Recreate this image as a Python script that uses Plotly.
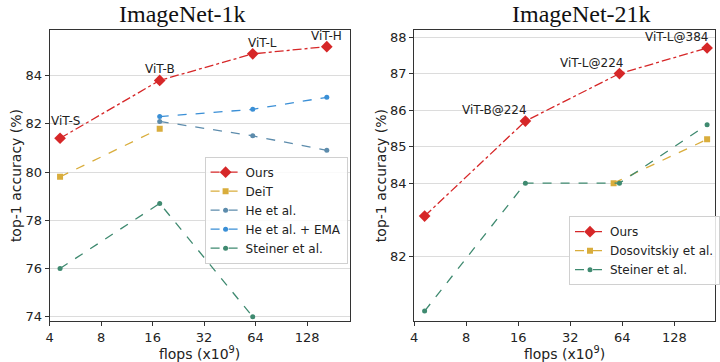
import numpy as np
import plotly.graph_objects as go

# ---------------- data: ImageNet-1k ----------------
in1k_ours_flops = [4.6, 17.6, 61.6, 167]
in1k_ours_acc = [81.4, 83.8, 84.9, 85.2]
in1k_ours_labels = ["ViT-S", "ViT-B", "ViT-L", "ViT-H"]

in1k_deit_flops = [4.6, 17.6]
in1k_deit_acc = [79.8, 81.8]

in1k_he_flops = [17.6, 61.6, 167]
in1k_he_acc = [82.1, 81.5, 80.9]

in1k_heema_flops = [17.6, 61.6, 167]
in1k_heema_acc = [82.3, 82.6, 83.1]

in1k_steiner_flops = [4.6, 17.6, 61.6]
in1k_steiner_acc = [76.0, 78.7, 74.0]

# ---------------- data: ImageNet-21k ----------------
in21k_ours_flops = [4.6, 17.6, 61.6, 198]
in21k_ours_acc = [83.1, 85.7, 87.0, 87.7]
in21k_ours_labels = ["", "ViT-B@224", "ViT-L@224", "ViT-L@384"]

in21k_dosov_flops = [57, 198]
in21k_dosov_acc = [84.0, 85.2]

in21k_steiner_flops = [4.6, 17.6, 61.6, 198]
in21k_steiner_acc = [80.5, 84.0, 84.0, 85.6]

x_ticks = [4, 8, 16, 32, 64, 128]
y_ticks_1k = [74, 76, 78, 80, 82, 84]
y_ticks_21k = [82, 84, 85, 86, 87, 88]

# ---------------- styles ----------------
RED = "#d62728"
GOLD = "#d9ad3c"
HEGREY = "#5d8cac"
BLUE = "#3a8fd6"
GREEN = "#3f8a70"

fig = go.Figure()


def add(x, y, name, color, symbol, size, dash, xa, ya, legend):
    fig.add_trace(go.Scatter(
        x=x, y=y, name=name, mode="lines+markers",
        line=dict(color=color, width=1.3, dash=dash),
        marker=dict(color=color, symbol=symbol, size=size),
        xaxis=xa, yaxis=ya, legend=legend,
    ))


add(in1k_ours_flops, in1k_ours_acc, "Ours", RED, "diamond", 9, "dashdot", "x", "y", "legend")
add(in1k_deit_flops, in1k_deit_acc, "DeiT", GOLD, "square", 6, "dash", "x", "y", "legend")
add(in1k_he_flops, in1k_he_acc, "He et al.", HEGREY, "circle", 5, "dash", "x", "y", "legend")
add(in1k_heema_flops, in1k_heema_acc, "He et al. + EMA", BLUE, "circle", 5, "dash", "x", "y", "legend")
add(in1k_steiner_flops, in1k_steiner_acc, "Steiner et al.", GREEN, "circle", 5, "dash", "x", "y", "legend")

add(in21k_ours_flops, in21k_ours_acc, "Ours", RED, "diamond", 9, "dashdot", "x2", "y2", "legend2")
add(in21k_dosov_flops, in21k_dosov_acc, "Dosovitskiy et al.", GOLD, "square", 6, "dash", "x2", "y2", "legend2")
add(in21k_steiner_flops, in21k_steiner_acc, "Steiner et al.", GREEN, "circle", 5, "dash", "x2", "y2", "legend2")

# point labels
shifts_1k = [(5, 17), (0, 11), (10, 11), (0, 11)]
for fx, acc, lab, (dx, dy) in zip(in1k_ours_flops, in1k_ours_acc, in1k_ours_labels, shifts_1k):
    fig.add_annotation(x=np.log10(fx), y=acc, xref="x", yref="y", text=lab, showarrow=False,
                       xshift=dx, yshift=dy, font=dict(size=12, color="#222"))
shifts_21k = [(0, 0), (-31, 11), (-28, 11), (-31, 11)]
for fx, acc, lab, (dx, dy) in zip(in21k_ours_flops, in21k_ours_acc, in21k_ours_labels, shifts_21k):
    if lab:
        fig.add_annotation(x=np.log10(fx), y=acc, xref="x2", yref="y2", text=lab, showarrow=False,
                           xshift=dx, yshift=dy, font=dict(size=12, color="#222"))

# titles
fig.add_annotation(x=180 / 720, y=1 - 14 / 362, xref="paper", yref="paper", text="ImageNet-1k",
                   showarrow=False, font=dict(family="Liberation Serif", size=24, color="#111"),
                   xanchor="center", yanchor="middle")
fig.add_annotation(x=582 / 720, y=1 - 14 / 362, xref="paper", yref="paper", text="ImageNet-21k",
                   showarrow=False, font=dict(family="Liberation Serif", size=24, color="#111"),
                   xanchor="center", yanchor="middle")

axis_common = dict(showline=True, linecolor="#333", linewidth=1, mirror=True,
                   ticks="outside", ticklen=4, tickcolor="#333", tickwidth=1,
                   tickfont=dict(size=13, color="#222"), zeroline=False)

xdom1 = [46 / 720, 348 / 720]
xdom2 = [413 / 720, 716 / 720]
ydom = [1 - 324 / 362, 1 - 30 / 362]

fig.update_layout(
    width=720, height=362,
    margin=dict(l=0, r=0, t=0, b=0),
    paper_bgcolor="white", plot_bgcolor="white",
    font=dict(family="DejaVu Sans", color="#222"),
    xaxis=dict(type="log", domain=xdom1, range=[np.log10(4), np.log10(227)],
               tickvals=x_ticks, ticktext=[str(v) for v in x_ticks], showgrid=False,
               title=dict(text="flops (x10<sup>9</sup>)", font=dict(size=14), standoff=1),
               anchor="y", **axis_common),
    yaxis=dict(domain=ydom, range=[73.81, 85.9], tickvals=y_ticks_1k, showgrid=True,
               gridcolor="#dcdcdc", gridwidth=1,
               title=dict(text="top-1 accuracy (%)", font=dict(size=14), standoff=0),
               anchor="x", **axis_common),
    xaxis2=dict(type="log", domain=xdom2, range=[np.log10(4), np.log10(220)],
                tickvals=x_ticks, ticktext=[str(v) for v in x_ticks], showgrid=False,
                title=dict(text="flops (x10<sup>9</sup>)", font=dict(size=14), standoff=1),
                anchor="y2", **axis_common),
    yaxis2=dict(domain=ydom, range=[80.22, 88.2], tickvals=y_ticks_21k, showgrid=True,
                gridcolor="#dcdcdc", gridwidth=1,
                title=dict(text="top-1 accuracy (%)", font=dict(size=14), standoff=0),
                anchor="x2", **axis_common),
    legend=dict(x=202 / 720, y=1 - 158 / 362, xanchor="left", yanchor="top",
                bgcolor="rgba(255,255,255,0.85)", bordercolor="#d0d0d0", borderwidth=1,
                font=dict(size=12, color="#222"), itemwidth=30, tracegroupgap=0),
    legend2=dict(x=569 / 720, y=1 - 218 / 362, xanchor="left", yanchor="top",
                 bgcolor="rgba(255,255,255,0.85)", bordercolor="#d0d0d0", borderwidth=1,
                 font=dict(size=12, color="#222"), itemwidth=30, tracegroupgap=0),
    showlegend=True,
)

fig.write_html("out.html", config={"displayModeBar": False},
               post_script="document.body.style.margin='0';document.body.style.overflow='hidden';")
